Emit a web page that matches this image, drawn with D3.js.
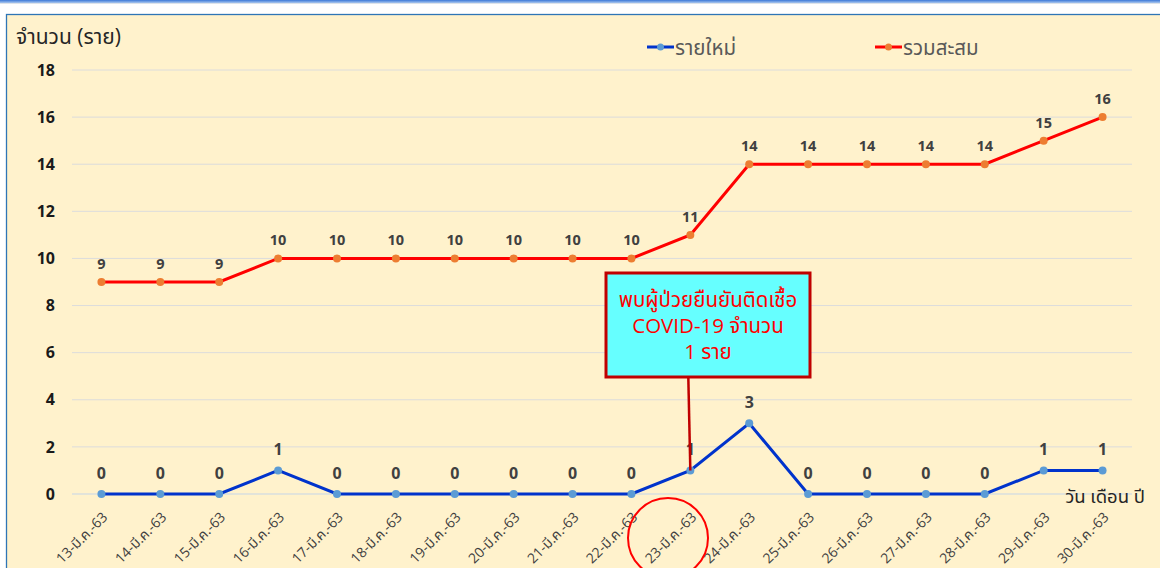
<!DOCTYPE html>
<html><head><meta charset="utf-8">
<script src="https://cdn.jsdelivr.net/npm/d3@7/dist/d3.min.js"></script>
<style>
html,body{margin:0;padding:0;background:#fff;}
svg{display:block;}
text{font-family:"Open Sans","Noto Sans","Noto Sans Thai",sans-serif;}
</style></head>
<body>
<svg id="c" width="1160" height="568"></svg>
<script>
const days = ["13","14","15","16","17","18","19","20","21","22","23","24","25","26","27","28","29","30"];
const categories = days.map(d => d + "-มี.ค.-63");
const newCases = [0,0,0,1,0,0,0,0,0,0,1,3,0,0,0,0,1,1];
const cumulative = [9,9,9,10,10,10,10,10,10,10,11,14,14,14,14,14,15,16];
const yTicks = [0,2,4,6,8,10,12,14,16,18];
const seriesNames = ["รายใหม่","รวมสะสม"];
const yTitle = "จำนวน (ราย)";
const xTitle = "วัน เดือน ปี";
const calloutLines = ["พบผู้ป่วยยืนยันติดเชื้อ","COVID-19 จำนวน","1 ราย"];
const calloutIndex = 10;

const svg = d3.select("#c");
// window frame
const grad = svg.append("defs").append("linearGradient").attr("id","tb").attr("x1",0).attr("x2",0).attr("y1",0).attr("y2",1);
grad.append("stop").attr("offset","0").attr("stop-color","#3b78d8");
grad.append("stop").attr("offset","1").attr("stop-color","#a9c6ee");
svg.append("rect").attr("x",0).attr("y",0).attr("width",1160).attr("height",3).attr("fill","url(#tb)");
svg.append("rect").attr("x",0).attr("y",3).attr("width",1160).attr("height",1).attr("fill","#dde3ea");
svg.append("rect").attr("x",6.5).attr("y",14.5).attr("width",1160).attr("height",600).attr("fill","#FFF2CC").attr("stroke","#2E75B6").attr("stroke-width",1.3);

const x = d3.scaleBand().domain(categories).range([72,1132]);
const cx = d => x(d) + x.bandwidth()/2;
const y = d3.scaleLinear().domain([0,18]).range([494,70]);

// gridlines
svg.append("g").selectAll("line").data(yTicks).join("line")
  .attr("x1",72).attr("x2",1132).attr("y1",d=>y(d)).attr("y2",d=>y(d))
  .attr("stroke",d=> d===0 ? "#c5d5e8" : "#dcdcdc").attr("stroke-width",1);

// y axis labels
const yAxis = svg.append("g").attr("transform","translate(60,0)")
  .call(d3.axisLeft(y).tickValues(yTicks).tickSize(0).tickPadding(5));
yAxis.select(".domain").remove();
yAxis.selectAll("text").attr("font-size",16).attr("font-weight","bold").attr("fill","#1a1a1a")
  .attr("font-family","'Open Sans',sans-serif");

// x axis labels
const xAxis = svg.append("g").attr("transform","translate(0,494)")
  .call(d3.axisBottom(x).tickSize(0).tickPadding(0));
xAxis.select(".domain").remove();
xAxis.selectAll("text")
  .attr("font-size",14).attr("fill","#404040")
  .attr("text-anchor","end").attr("dy",0).attr("dx",0)
  .attr("transform","translate(7,24) rotate(-45)");

// titles
svg.append("text").attr("x",16).attr("y",44).attr("font-size",21).attr("fill","#262626").text(yTitle);
svg.append("text").attr("x",1145).attr("y",503).attr("text-anchor","end").attr("font-size",18.5).attr("fill","#262626").text(xTitle);

// lines
const line = d3.line().x((d,i)=>cx(categories[i])).y(d=>y(d));
svg.append("path").datum(cumulative).attr("d",line).attr("fill","none").attr("stroke","#FF0000").attr("stroke-width",3);
svg.append("path").datum(newCases).attr("d",line).attr("fill","none").attr("stroke","#0033CC").attr("stroke-width",3);

svg.append("g").selectAll("circle").data(cumulative).join("circle")
  .attr("cx",(d,i)=>cx(categories[i])).attr("cy",d=>y(d)).attr("r",4).attr("fill","#ED7D31");
svg.append("g").selectAll("circle").data(newCases).join("circle")
  .attr("cx",(d,i)=>cx(categories[i])).attr("cy",d=>y(d)).attr("r",4).attr("fill","#5B9BD5");

// data labels
svg.append("g").selectAll("text").data(cumulative).join("text")
  .attr("x",(d,i)=>cx(categories[i])).attr("y",d=>y(d)-13)
  .attr("text-anchor","middle").attr("font-size",14.5).attr("font-weight","bold").attr("fill","#404040").text(d=>d);
svg.append("g").selectAll("text").data(newCases).join("text")
  .attr("x",(d,i)=>cx(categories[i])).attr("y",d=>y(d)-15)
  .attr("text-anchor","middle").attr("font-size",16).attr("font-weight","bold").attr("fill","#404040").text(d=>d);

// legend
const legend = [{name:seriesNames[0],line:"#0033CC",dot:"#5B9BD5",x:647},{name:seriesNames[1],line:"#FF0000",dot:"#ED7D31",x:875}];
const lg = svg.append("g").selectAll("g").data(legend).join("g").attr("transform",d=>`translate(${d.x},47)`);
lg.append("line").attr("x1",0).attr("x2",27).attr("stroke",d=>d.line).attr("stroke-width",3);
lg.append("circle").attr("cx",13.5).attr("r",3.5).attr("fill",d=>d.dot);
lg.append("text").attr("x",28).attr("y",8).attr("font-size",20.5).attr("fill","#595959").text(d=>d.name);

// callout
const px = cx(categories[calloutIndex]);
svg.append("line").attr("x1",px-2).attr("x2",px).attr("y1",378).attr("y2",y(newCases[calloutIndex]))
  .attr("stroke","#C00000").attr("stroke-width",2.5);
svg.append("rect").attr("x",606).attr("y",273).attr("width",204).attr("height",104)
  .attr("fill","#66FFFF").attr("stroke","#C00000").attr("stroke-width",3);
svg.append("g").selectAll("text").data(calloutLines).join("text")
  .attr("x",708).attr("y",(d,i)=>307+i*26).attr("text-anchor","middle")
  .attr("font-size",20.5).attr("fill","#FF0000").text(d=>d);

// highlight circle
svg.append("circle").attr("cx",668).attr("cy",538).attr("r",40).attr("fill","none").attr("stroke","#FF0000").attr("stroke-width",2);
</script>
</body></html>
